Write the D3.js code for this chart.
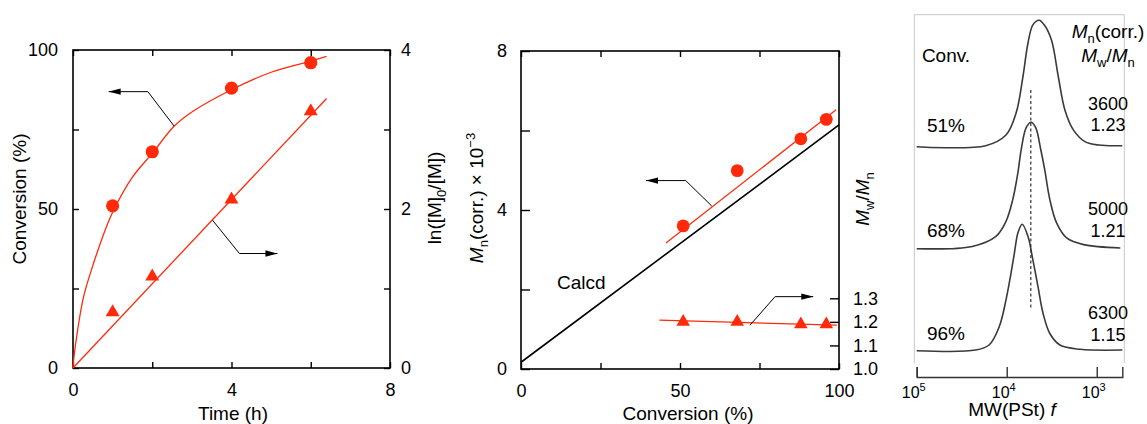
<!DOCTYPE html>
<html><head><meta charset="utf-8">
<script src="https://cdn.jsdelivr.net/npm/d3@7"></script>
<style>
html,body{margin:0;padding:0;background:#fff;}
svg{display:block;font-family:"Liberation Sans",Arial,Helvetica,sans-serif;}
</style></head>
<body>
<svg id="c" width="1147" height="424"></svg>
<script>
// ---------- DATA ----------
// Panel a: kinetics
const timeH = [1, 2, 4, 6];
const conversionPct = [51, 68, 88, 96];
const lnM0M = [0.70, 1.15, 2.12, 3.23];
const convFitT = [0, 0.02, 0.118, 0.269, 0.521, 0.815, 1.0, 1.5, 2.0, 2.55, 3.0, 4.0, 5.0, 6.0, 6.4];
const convFitV = [0, 3.0, 12.0, 22.5, 33.0, 43.5, 49.0, 60.0, 67.5, 76.0, 80.5, 87.5, 93.0, 96.5, 98.0];
const lnFitT = [0, 6.4];
const lnFitV = [0, 3.39];
const axAxisX = [0, 2, 4, 6, 8];
const axAxisYL = [0, 25, 50, 75, 100];
const axAxisYR = [0, 1, 2, 3, 4];
const arrowA1 = [[2.55, 76.1], [1.89, 86.9], [0.9, 86.9]];   // conv axis, points left
const arrowA2 = [[3.52, 1.86], [4.2, 1.44], [5.16, 1.44]];   // ln axis, points right

// Panel b: Mn vs conversion
const convB = [51, 68, 88, 96];
const mnCorr = [3.60, 4.99, 5.79, 6.28];      // x 10^3
const mwmn = [1.20, 1.20, 1.19, 1.19];
const mnFitX = [45.6, 99.1];
const mnFitV = [3.17, 6.52];
const calcdX = [0, 100];
const calcdV = [0.17, 6.14];
const pdiFitX = [43.5, 99.3];
const pdiFitV = [1.207, 1.186];
const bAxisX = [0, 25, 50, 75, 100];
const bAxisYL = [0, 2, 4, 6, 8];
const bAxisYR = [1.0, 1.1, 1.2, 1.3];
const arrowB1 = [[60, 4.10], [51.8, 4.74], [39.3, 4.74]];      // Mn axis, left
const arrowB2 = [[72, 1.186], [79.9, 1.307], [91.9, 1.307]];   // PDI axis, right

// Panel c: GPC traces (log10 MW, normalized intensity)
const gpcConv = ["51%", "68%", "96%"];
const gpcMn = ["3600", "5000", "6300"];
const gpcPdi = ["1.23", "1.21", "1.15"];
const gpcTop = [[5.0,0],[4.233,0.008],[4.008,0.092],[3.896,0.266],[3.82,0.553],[3.764,0.818],[3.708,0.965],[3.64,1.0],[3.58,0.96],[3.502,0.842],[3.427,0.553],[3.353,0.289],[3.258,0.131],[3.131,0.04],[2.978,0.013],[2.716,0.008]];
const gpcMid = [[5.0,0],[4.382,0.018],[4.12,0.097],[4.008,0.216],[3.933,0.388],[3.876,0.6],[3.839,0.784],[3.783,0.959],[3.73,1.0],[3.679,0.959],[3.622,0.784],[3.578,0.625],[3.521,0.388],[3.446,0.204],[3.334,0.085],[3.146,0.032],[2.738,0.006]];
const gpcBot = [[5.0,0],[4.345,0.005],[4.196,0.045],[4.083,0.19],[4.008,0.402],[3.952,0.614],[3.915,0.77],[3.876,0.93],[3.828,1.0],[3.764,0.904],[3.71,0.72],[3.652,0.505],[3.596,0.294],[3.521,0.136],[3.409,0.045],[3.184,0.011],[2.716,0.005]];
const gpcTicks = [1e5, 1e4, 1e3];
const gpcTickExp = ["5", "4", "3"];
const gpcDashMW = 5400;
const gpcDashRange = [0.416, 2.556];

// ---------- DRAW ----------
const RED = "#ff2a0a";
const svg = d3.select("#c");
const defs = svg.append("defs");
defs.append("marker").attr("id","ah").attr("viewBox","0 0 12 8").attr("refX",12).attr("refY",4)
  .attr("markerWidth",12).attr("markerHeight",8).attr("markerUnits","userSpaceOnUse").attr("orient","auto")
  .append("path").attr("d","M0,0.8L12,4L0,7.2Z").attr("fill","#000");

function frame(g, x0, y0, x1, y1){
  g.append("rect").attr("x",x0).attr("y",y0).attr("width",x1-x0).attr("height",y1-y0)
   .attr("fill","none").attr("stroke","#000").attr("stroke-width",1.6);
}
function styleAxis(sel, fs){
  sel.select(".domain").remove();
  sel.selectAll(".tick line").attr("stroke","#000").attr("stroke-width",1.4);
  sel.selectAll(".tick text").attr("font-size",fs).attr("fill","#000").attr("font-family","Liberation Sans, Arial, sans-serif");
}

// ===== Panel a =====
const xA = d3.scaleLinear().domain([0,8]).range([73,390]);
const yA = d3.scaleLinear().domain([0,100]).range([368,50]);
const yA2 = d3.scaleLinear().domain([0,4]).range([368,50]);
const gA = svg.append("g");
gA.append("g").attr("transform","translate(0,368)")
  .call(d3.axisBottom(xA).tickValues(axAxisX).tickSize(-6).tickPadding(15).tickFormat(d=> d%4===0? d:""))
  .call(s=>styleAxis(s,18));
gA.append("g").attr("transform","translate(0,50)")
  .call(d3.axisTop(xA).tickValues(axAxisX).tickSize(-6).tickFormat(""))
  .call(s=>styleAxis(s,18));
gA.append("g").attr("transform","translate(73,0)")
  .call(d3.axisLeft(yA).tickValues(axAxisYL).tickSize(-6).tickPadding(15).tickFormat(d=> d%50===0? d:""))
  .call(s=>styleAxis(s,18));
gA.append("g").attr("transform","translate(390,0)")
  .call(d3.axisRight(yA2).tickValues(axAxisYR).tickSize(-6).tickPadding(11).tickFormat(d=> d%2===0? d:""))
  .call(s=>styleAxis(s,18));
frame(gA,73,50,390,368);

const lineA = d3.line().x(d=>xA(d[0])).y(d=>yA(d[1])).curve(d3.curveCatmullRom.alpha(0.5));
gA.append("path").attr("d", lineA(convFitT.map((t,i)=>[t,convFitV[i]])))
  .attr("fill","none").attr("stroke",RED).attr("stroke-width",1.3);
const lineA2 = d3.line().x(d=>xA(d[0])).y(d=>yA2(d[1]));
gA.append("path").attr("d", lineA2(lnFitT.map((t,i)=>[t,lnFitV[i]])))
  .attr("fill","none").attr("stroke",RED).attr("stroke-width",1.3);
gA.selectAll("circle.c").data(timeH).join("circle")
  .attr("cx",d=>xA(d)).attr("cy",(d,i)=>yA(conversionPct[i])).attr("r",6.6).attr("fill",RED);
gA.selectAll("path.t").data(timeH).join("path")
  .attr("d", d3.symbol(d3.symbolTriangle, 84))
  .attr("transform",(d,i)=>`translate(${xA(d)},${yA2(lnM0M[i])})`).attr("fill",RED);
gA.append("path").attr("d", d3.line().x(d=>xA(d[0])).y(d=>yA(d[1]))(arrowA1))
  .attr("fill","none").attr("stroke","#000").attr("stroke-width",1).attr("marker-end","url(#ah)");
gA.append("path").attr("d", d3.line().x(d=>xA(d[0])).y(d=>yA2(d[1]))(arrowA2))
  .attr("fill","none").attr("stroke","#000").attr("stroke-width",1).attr("marker-end","url(#ah)");

gA.append("text").attr("x",233).attr("y",420).attr("text-anchor","middle").attr("font-size",19).text("Time (h)");
gA.append("text").attr("transform","translate(26,199) rotate(-90)").attr("text-anchor","middle").attr("font-size",19).text("Conversion (%)");
const lnT = gA.append("text").attr("transform","translate(441,198) rotate(-90)").attr("text-anchor","middle").attr("font-size",19);
lnT.append("tspan").text("ln([M]");
lnT.append("tspan").attr("font-size",13).attr("dy",5).text("0");
lnT.append("tspan").attr("dy",-5).text("/[M])");

// ===== Panel b =====
const xB = d3.scaleLinear().domain([0,100]).range([521,839]);
const yB = d3.scaleLinear().domain([0,8]).range([369,51]);
const yB2 = d3.scaleLinear().domain([1.0,1.3]).range([369,298.3]);
const gB = svg.append("g");
gB.append("g").attr("transform","translate(0,369)")
  .call(d3.axisBottom(xB).tickValues(bAxisX).tickSize(-6).tickPadding(15).tickFormat(d=> d%50===0? d:""))
  .call(s=>styleAxis(s,18));
gB.append("g").attr("transform","translate(0,51)")
  .call(d3.axisTop(xB).tickValues(bAxisX).tickSize(-6).tickFormat(""))
  .call(s=>styleAxis(s,18));
gB.append("g").attr("transform","translate(521,0)")
  .call(d3.axisLeft(yB).tickValues(bAxisYL).tickSize(-9).tickPadding(14).tickFormat(d=> d%4===0? d:""))
  .call(s=>styleAxis(s,18));
gB.append("g").attr("transform","translate(839,0)")
  .call(d3.axisRight(yB2).tickValues(bAxisYR).tickSize(-9).tickPadding(14).tickFormat(d3.format(".1f")))
  .call(s=>styleAxis(s,18));
frame(gB,521,51,839,369);

const lineB = d3.line().x(d=>xB(d[0])).y(d=>yB(d[1]));
gB.append("path").attr("d", lineB(calcdX.map((x,i)=>[x,calcdV[i]])))
  .attr("fill","none").attr("stroke","#000").attr("stroke-width",1.6);
gB.append("path").attr("d", lineB(mnFitX.map((x,i)=>[x,mnFitV[i]])))
  .attr("fill","none").attr("stroke",RED).attr("stroke-width",1.3);
const lineB2 = d3.line().x(d=>xB(d[0])).y(d=>yB2(d[1]));
gB.append("path").attr("d", lineB2(pdiFitX.map((x,i)=>[x,pdiFitV[i]])))
  .attr("fill","none").attr("stroke",RED).attr("stroke-width",1.3);
gB.selectAll("circle.c").data(convB).join("circle")
  .attr("cx",d=>xB(d)).attr("cy",(d,i)=>yB(mnCorr[i])).attr("r",6.4).attr("fill",RED);
gB.selectAll("path.t").data(convB).join("path")
  .attr("d", d3.symbol(d3.symbolTriangle, 80))
  .attr("transform",(d,i)=>`translate(${xB(d)},${yB2(mwmn[i])})`).attr("fill",RED);
gB.append("path").attr("d", d3.line().x(d=>xB(d[0])).y(d=>yB(d[1]))(arrowB1))
  .attr("fill","none").attr("stroke","#000").attr("stroke-width",1).attr("marker-end","url(#ah)");
gB.append("path").attr("d", d3.line().x(d=>xB(d[0])).y(d=>yB2(d[1]))(arrowB2))
  .attr("fill","none").attr("stroke","#000").attr("stroke-width",1).attr("marker-end","url(#ah)");

gB.append("text").attr("x",557).attr("y",289).attr("font-size",19).text("Calcd");
gB.append("text").attr("x",688).attr("y",420).attr("text-anchor","middle").attr("font-size",19).text("Conversion (%)");
const mnT = gB.append("text").attr("transform","translate(483,198) rotate(-90)").attr("text-anchor","middle").attr("font-size",19);
mnT.append("tspan").attr("font-style","italic").text("M");
mnT.append("tspan").attr("font-size",13).attr("dy",5).text("n");
mnT.append("tspan").attr("dy",-5).text("(corr.) × 10");
mnT.append("tspan").attr("font-size",13).attr("dy",-8).text("−3");
const pdT = gB.append("text").attr("transform","translate(869,199) rotate(-90)").attr("text-anchor","middle").attr("font-size",19);
pdT.append("tspan").attr("font-style","italic").text("M");
pdT.append("tspan").attr("font-size",13).attr("dy",5).text("w");
pdT.append("tspan").attr("dy",-5).text("/");
pdT.append("tspan").attr("font-style","italic").text("M");
pdT.append("tspan").attr("font-size",13).attr("dy",5).text("n");

// ===== Panel c =====
const xC = d3.scaleLog().domain([1e5, 520]).range([916.7, 1122.3]);
const yBase = d3.scaleLinear().domain([0,2]).range([350.7,146.7]);
const hC = d3.scaleLinear().domain([0,1]).range([0,126.5]);
const gC = svg.append("g");
gC.append("path").attr("d","M914.3,363V14.7H1124.3V363").attr("fill","none").attr("stroke","#c8c8c8").attr("stroke-width",1);
const axC = gC.append("g").attr("transform","translate(0,377)")
  .call(d3.axisBottom(xC).tickValues(gpcTicks).tickSize(-10).tickSizeOuter(-10).tickFormat(""));
axC.selectAll("path,line").attr("stroke","#333").attr("stroke-width",1.4);
gpcTicks.forEach((v,i)=>{
  const t = gC.append("text").attr("x",xC(v)-3).attr("y",398).attr("text-anchor","middle").attr("font-size",16);
  t.append("tspan").text("10");
  t.append("tspan").attr("font-size",11).attr("dy",-7).text(gpcTickExp[i]);
});
const cText = gC.append("text").attr("x",1012).attr("y",416).attr("text-anchor","middle").attr("font-size",19);
cText.append("tspan").text("MW(PSt) ");
cText.append("tspan").attr("font-style","italic").text("f");

[gpcTop, gpcMid, gpcBot].forEach((tr, k)=>{
  const off = 2-k;
  const ln = d3.line().x(d=>xC(Math.pow(10,d[0]))).y(d=>yBase(off)-hC(d[1])).curve(d3.curveCatmullRom.alpha(0.5));
  gC.append("path").attr("d", ln(tr)).attr("fill","none").attr("stroke","#3a3a3a").attr("stroke-width",1.6);
});
gC.append("line").attr("x1",xC(gpcDashMW)).attr("x2",xC(gpcDashMW))
  .attr("y1",yBase(gpcDashRange[1])).attr("y2",yBase(gpcDashRange[0]))
  .attr("stroke","#333").attr("stroke-width",1.2).attr("stroke-dasharray","3,2.5");

gC.append("text").attr("x",946).attr("y",61.5).attr("text-anchor","middle").attr("font-size",19).text("Conv.");
const convBase = [131.7, 237, 340];
const mnBase = [110, 215, 319];
const pdBase = [131, 236.5, 340.5];
gpcConv.forEach((s,i)=>{
  gC.append("text").attr("x",946).attr("y",convBase[i]).attr("text-anchor","middle").attr("font-size",19).text(s);
  gC.append("text").attr("x",1108).attr("y",mnBase[i]).attr("text-anchor","middle").attr("font-size",18).text(gpcMn[i]);
  gC.append("text").attr("x",1108).attr("y",pdBase[i]).attr("text-anchor","middle").attr("font-size",18).text(gpcPdi[i]);
});
const h1 = gC.append("text").attr("x",1108).attr("y",38).attr("text-anchor","middle").attr("font-size",19);
h1.append("tspan").attr("font-style","italic").text("M");
h1.append("tspan").attr("font-size",13).attr("dy",5).text("n");
h1.append("tspan").attr("dy",-5).text("(corr.)");
const h2 = gC.append("text").attr("x",1108).attr("y",61.5).attr("text-anchor","middle").attr("font-size",19);
h2.append("tspan").attr("font-style","italic").text("M");
h2.append("tspan").attr("font-size",13).attr("dy",5).text("w");
h2.append("tspan").attr("dy",-5).text("/");
h2.append("tspan").attr("font-style","italic").text("M");
h2.append("tspan").attr("font-size",13).attr("dy",5).text("n");
</script>
</body></html>
